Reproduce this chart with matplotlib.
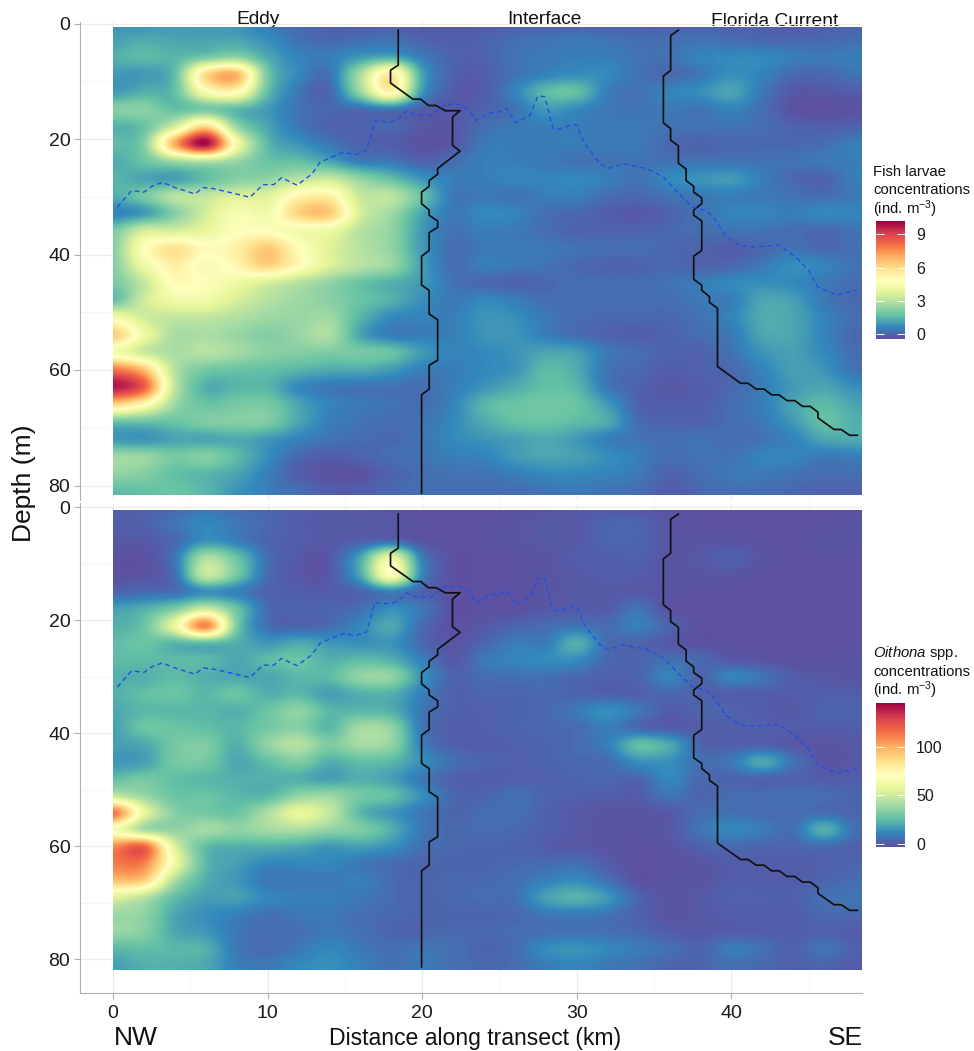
import numpy as np
import matplotlib
matplotlib.use("Agg")
import matplotlib.pyplot as plt
from matplotlib.patches import Rectangle

plt.rcParams['font.family'] = ['Liberation Sans', 'DejaVu Sans']
plt.rcParams['mathtext.fontset'] = 'custom'
plt.rcParams['mathtext.rm'] = 'Liberation Sans'
plt.rcParams['mathtext.it'] = 'Liberation Sans:italic'
plt.rcParams['mathtext.default'] = 'regular'

distance_km = list(range(0, 49, 2))
depth_m = list(range(0, 82, 3))

fish_larvae = [
 [0.8,0.8,0.9,1.0,0.9,0.4,0.1,-0.1,-0.1,-0.1,-0.2,-0.2,-0.2,-0.1,-0.1,-0.1,-0.1,-0.1,-0.1,-0.1,-0.1,-0.1,-0.2,-0.1,0.0],
 [1.1,1.3,1.2,1.2,1.2,0.8,0.3,0.1,0.2,0.3,0.0,-0.1,0.0,0.2,0.3,0.4,0.3,0.2,0.2,0.3,0.2,0.1,0.1,0.1,0.2],
 [1.4,1.6,1.5,2.0,2.4,1.3,0.6,0.5,1.0,1.3,0.5,0.0,0.0,0.3,0.4,0.5,0.5,0.3,0.3,0.6,0.7,0.7,0.5,0.4,0.5],
 [1.0,1.0,1.7,6.0,6.8,2.0,0.7,0.3,2.8,5.6,1.2,0.0,-0.1,0.3,0.6,0.8,0.7,0.3,0.1,0.4,0.8,0.6,0.1,0.1,0.3],
 [1.0,1.4,1.7,4.6,5.0,1.7,0.4,0.1,2.5,5.2,1.0,-0.1,-0.1,0.6,1.6,1.7,0.5,0.3,0.6,0.8,1.2,0.4,-0.2,-0.2,-0.1],
 [2.2,2.3,1.7,2.0,1.6,1.0,0.3,0.1,0.2,0.4,-0.1,-0.2,0.0,0.3,1.0,0.7,0.4,0.3,0.4,0.3,0.6,0.2,-0.3,-0.35,-0.3],
 [1.4,1.8,3.6,6.2,2.5,1.2,0.4,0.0,0.0,0.1,-0.2,-0.2,0.2,0.4,0.5,0.5,0.4,0.4,0.3,0.3,0.3,0.2,0.0,-0.1,0.0],
 [1.6,2.2,7.0,10.0,4.5,1.6,0.9,0.4,0.0,-0.1,-0.3,-0.2,0.4,0.5,0.5,0.5,0.4,0.4,0.1,0.0,0.1,0.1,0.1,0.2,0.5],
 [1.3,1.8,2.6,3.0,2.5,1.8,1.7,1.2,0.5,0.4,0.0,0.2,0.5,0.5,0.4,0.3,0.3,0.3,0.3,0.3,0.3,0.3,0.3,0.4,0.5],
 [1.5,1.2,1.1,1.7,2.2,2.4,3.0,3.3,2.4,1.7,0.9,0.5,0.5,0.6,0.6,0.7,0.5,0.3,0.7,0.9,1.0,0.5,0.1,0.0,0.5],
 [1.3,2.0,3.0,3.2,3.7,3.8,5.2,5.4,3.3,3.1,1.8,0.4,0.4,0.3,0.5,0.5,0.2,0.1,0.3,0.4,0.5,0.4,0.3,0.2,0.4],
 [0.6,1.0,2.2,3.5,4.6,4.4,6.2,6.4,3.6,2.6,1.2,0.4,0.7,0.6,0.2,0.1,-0.1,-0.2,0.0,0.3,0.6,0.6,0.5,0.7,0.6],
 [2.0,3.5,3.6,4.0,4.8,4.8,4.4,4.2,3.0,2.4,1.0,0.3,0.5,0.4,0.2,0.0,0.0,0.0,0.1,0.2,0.3,0.3,0.2,0.1,0.3],
 [2.2,4.8,5.8,5.0,5.4,6.4,5.0,3.8,3.0,2.4,1.0,0.2,0.4,0.4,0.4,0.3,0.2,0.2,0.1,0.0,-0.1,0.1,0.3,0.1,0.2],
 [2.2,4.2,5.4,4.6,5.2,6.2,5.0,3.7,3.0,2.5,1.1,0.2,0.5,0.4,0.3,0.1,0.0,0.0,0.1,0.0,0.1,0.4,0.8,0.6,0.3],
 [2.0,3.2,5.0,4.8,4.2,3.6,3.0,2.4,1.8,1.4,1.0,0.3,0.1,0.0,0.1,0.2,0.2,0.2,0.3,0.5,0.7,0.8,0.7,0.4,0.2],
 [1.7,3.4,4.3,4.3,3.6,3.0,2.6,2.3,1.8,1.4,0.8,0.4,0.7,0.5,0.2,0.2,0.2,0.2,0.2,0.4,0.5,1.2,1.1,0.4,0.1],
 [4.5,3.5,3.2,3.2,2.9,2.6,2.5,2.6,1.5,0.7,0.6,0.5,0.9,0.8,0.4,0.2,0.1,0.1,0.1,0.3,0.6,1.3,1.2,0.6,0.2],
 [6.4,4.3,2.8,2.8,2.5,2.2,2.5,2.8,1.2,0.5,0.5,0.5,0.9,0.9,0.5,0.2,0.0,-0.1,0.0,0.2,0.4,1.2,1.2,0.6,0.1],
 [4.5,3.4,2.8,3.0,2.7,2.3,2.2,2.1,2.0,1.8,1.0,0.6,0.7,0.9,1.2,1.1,0.4,0.2,0.0,0.0,0.3,0.9,1.1,0.7,0.2],
 [8.0,6.6,3.0,2.0,1.8,1.7,1.5,1.3,1.3,1.0,0.5,0.5,0.7,0.9,1.6,1.3,0.3,0.1,-0.1,0.0,0.1,0.6,1.1,0.9,0.3],
 [9.8,8.4,3.2,1.4,1.5,1.5,0.7,0.4,0.3,0.3,0.2,0.5,0.9,1.3,1.7,1.5,0.4,0.0,-0.2,-0.1,0.1,0.5,1.0,1.2,0.8],
 [6.2,5.0,2.6,1.8,2.0,2.0,1.2,0.6,0.4,0.3,0.2,0.6,1.5,1.8,1.9,1.8,1.0,0.0,-0.1,-0.1,0.2,0.5,1.2,1.6,1.2],
 [1.8,1.8,1.8,2.1,2.2,2.1,1.2,0.5,0.3,0.2,0.3,0.7,1.3,1.7,1.8,1.6,1.3,0.2,0.0,0.0,0.2,0.4,1.0,1.7,1.4],
 [1.0,0.9,1.2,1.2,1.3,1.0,0.6,0.3,0.2,0.1,0.3,0.7,0.9,1.1,1.3,1.0,0.5,0.3,0.2,0.3,0.2,0.3,0.6,1.2,1.3],
 [2.6,2.5,2.0,2.2,1.6,0.8,0.1,-0.1,0.0,0.2,0.3,0.5,0.6,1.0,1.2,1.1,0.8,0.5,0.2,0.3,0.3,0.6,0.6,0.4,0.5],
 [2.4,2.2,1.7,1.5,1.2,0.5,-0.1,-0.3,-0.3,0.0,0.2,0.3,0.3,0.5,0.7,0.7,0.6,0.4,0.0,0.2,0.4,0.4,0.3,0.2,0.2],
 [1.6,1.7,1.8,1.5,0.9,0.5,0.2,-0.1,-0.1,0.1,0.2,0.2,0.2,0.2,0.3,0.4,0.3,0.2,-0.1,0.1,0.2,0.2,0.1,0.0,0.0],
]

oithona = [
 [2,2,4,8,5,3,1,0,0,-1,-2,-2,-2,-2,-1,0,0,-1,-1,-2,-2,-2,-2,-2,-2],
 [1,2,7,12,8,4,1,0,0,0,-2,-2,-2,-1,0,0,3,3,-1,-2,-2,-2,-2,-2,-1],
 [0,0,4,15,10,3,1,0,2,5,-1,-2,-2,-1,0,0,3,3,-1,-1,-1,-2,-2,-1,-1],
 [-2,-2,8,42,28,6,0,0,20,60,10,-2,-2,-2,-1,1,1,2,-1,0,2,-1,-2,-2,-2],
 [-2,-1,6,48,30,5,0,0,20,68,12,-2,-2,-2,-1,0,1,1,-1,-1,-1,-2,-2,-2,-2],
 [3,5,6,14,10,3,1,1,3,10,2,-2,-2,-2,-1,0,0,0,-1,-2,-2,-2,-2,-2,-2],
 [18,22,32,50,28,5,3,3,6,14,8,-2,-2,-2,0,1,1,7,-2,-2,-2,-2,-2,-2,-2],
 [22,28,60,110,32,6,3,5,12,20,5,-2,0,3,5,7,5,10,3,-2,-2,-2,-2,-2,-2],
 [25,28,24,26,22,16,20,16,14,15,4,-1,3,9,9,22,5,3,0,-2,-2,-2,-2,-2,-2],
 [25,25,25,25,20,25,28,22,25,22,10,0,8,11,13,13,4,3,6,4,0,-1,-2,-2,-1],
 [22,22,25,22,20,20,24,25,36,36,15,3,5,6,6,4,2,3,11,3,11,7,1,0,-1],
 [22,26,28,24,28,22,24,18,22,22,10,2,3,3,4,3,2,2,4,2,1,1,1,1,1],
 [20,24,24,24,22,28,36,24,24,22,8,2,2,3,4,8,14,8,1,3,3,1,0,3,3],
 [18,28,28,26,24,30,34,24,40,36,8,1,2,3,4,5,9,4,1,1,1,2,1,1,1],
 [18,20,30,32,22,36,44,32,40,36,10,2,1,2,3,5,10,26,20,3,2,2,0,-1,0],
 [16,18,30,30,20,26,32,22,26,24,14,6,3,2,3,4,5,14,14,6,8,20,7,-1,0],
 [26,30,26,24,22,22,22,18,22,18,8,2,1,2,2,3,4,3,12,4,3,3,2,1,1],
 [48,38,28,28,24,24,36,38,30,26,14,4,3,6,3,2,1,1,7,3,5,5,6,5,3],
 [115,60,34,30,28,42,58,48,24,16,8,3,5,6,2,0,-1,-1,0,5,6,5,5,5,3],
 [68,42,36,40,36,40,42,36,32,22,8,4,5,4,2,0,-1,-1,0,7,12,9,6,22,6],
 [108,118,55,26,22,22,20,16,18,14,6,4,3,3,1,0,-1,-2,-1,2,4,3,3,5,2],
 [112,110,62,25,18,12,12,12,8,5,3,3,3,4,5,6,1,-2,-2,-1,1,1,1,2,3],
 [95,90,42,22,16,8,8,8,10,5,3,4,4,6,10,13,6,-2,-1,-1,1,1,1,3,5],
 [55,45,26,18,18,12,10,10,8,5,3,4,5,6,18,23,16,3,-1,0,2,2,2,6,7],
 [38,36,20,14,10,6,8,8,6,4,3,3,3,4,8,9,7,2,-1,0,1,1,1,4,4],
 [38,34,20,16,8,5,6,8,6,3,3,4,4,5,6,6,6,4,1,0,1,1,1,2,1],
 [24,26,24,22,8,5,8,12,8,6,7,6,3,5,13,15,12,9,6,3,9,6,2,7,2],
 [18,22,22,20,10,8,12,14,10,6,8,6,4,5,9,11,8,6,3,3,6,4,2,3,1],
]

front1_x = [18.45,18.45,17.95,17.95,19.4,19.9,20.4,20.9,21.5,22.45,21.96,21.96,22.45,21,21,20.45,20.45,19.96,19.96,20.45,20.45,21,21,20.45,20.45,19.96,19.96,20.45,20.45,21,21,20.45,20.45,19.96,19.96]
front1_d = [1.15,7.2,8.1,10.3,13.1,13.1,14.2,14.2,15.1,15.1,16.2,21.1,22.1,25.1,26.1,27.2,28.2,29.2,31.2,32.3,33.2,34.2,35.3,36.2,39.3,40.3,45.3,46.2,50.3,51.3,58.3,59.2,63.3,64.3,81.3]
front2_x = [36.57,36.07,36.07,35.6,35.6,36.07,36.07,36.57,36.57,37.07,37.07,37.56,37.56,38.08,38.08,37.56,37.56,38.08,38.08,37.56,37.56,38.08,38.08,38.58,38.58,39.1,39.1,40.6,41.08,41.6,42.1,42.6,43.08,43.6,44.1,44.6,45.1,45.6,45.6,46.64,47.1,47.65,48.15]
front2_d = [1.15,2.1,8.1,9.1,17.2,18.2,20.2,21.2,24.2,25.2,27.2,28.2,29.2,30.2,31.2,32.3,33.2,34.2,39.3,40.3,44.3,45.3,46.2,47.3,48.3,49.3,59.4,62.3,62.3,63.3,63.3,64.3,64.3,65.3,65.3,66.3,66.3,67.3,68.3,70.3,70.3,71.3,71.3]
mld_x = [0.28,1.2,2.0,2.5,3.2,4.0,5.3,5.84,6.5,7.8,8.86,9.7,10.4,10.9,11.9,12.85,13.4,14.9,15.65,16.4,16.94,18.0,18.45,19.0,19.6,20.6,21.47,22.5,23.0,23.5,24.37,25.0,25.5,26.05,26.96,27.5,27.93,28.47,28.9,29.65,30.0,30.5,31.5,32.0,33.0,34.5,35.6,36.9,37.5,38.4,39.0,39.6,40.5,41.4,43.1,44.2,45.0,45.6,46.8,48.1]
mld_d = [31.8,28.9,29.2,28.2,27.5,28.4,29.5,28.4,28.6,29.4,30.1,27.9,27.9,26.7,28.0,26.1,24.0,22.3,22.7,22.0,16.9,17.05,16.5,15.1,15.9,15.9,14.0,14.0,15.0,16.8,15.5,15.3,14.75,17.2,15.9,12.5,12.7,18.2,18.3,17.5,17.6,20.8,24.3,25.1,24.3,25.1,26.6,30.3,31.8,32.4,34.1,36.7,38.4,38.7,38.4,40.5,42.8,45.7,47.0,46.2]

depth_ticks = [0, 20, 40, 60, 80]
distance_ticks = [0, 10, 20, 30, 40]
water_masses = ['Eddy', 'Interface', 'Florida Current']
fish_ticks = [0, 3, 6, 9]
oithona_ticks = [0, 50, 100]
fish_range = (-0.4, 10.2)
oithona_range = (-3, 145)

W, H = 974, 1051
fig = plt.figure(figsize=(W / 100, H / 100), dpi=100, facecolor='white')

def box(x0, y0, x1, y1):
    return [x0 / W, 1 - y1 / H, (x1 - x0) / W, (y1 - y0) / H]

def panel(y0, y1, depth_zero_px, px_per_m, tile_top, tile_bottom, values, vrange, show_x):
    ax = fig.add_axes(box(80, y0, 862, y1))
    ax.patch.set_visible(False)
    xlim = ((80 - 113) / 15.46, (862 - 113) / 15.46)
    ylim = ((y1 - depth_zero_px) / px_per_m, (y0 - depth_zero_px) / px_per_m)
    dx = (distance_km[1] - distance_km[0]) / 2
    dy = (depth_m[1] - depth_m[0]) / 2
    im = ax.imshow(np.array(values, float), cmap='Spectral_r', vmin=vrange[0], vmax=vrange[1],
                   interpolation='catrom', aspect='auto', origin='upper', zorder=2,
                   extent=(distance_km[0] - dx, distance_km[-1] + dx, depth_m[-1] + dy, depth_m[0] - dy))
    ax.set_xlim(*xlim)
    ax.set_ylim(*ylim)
    im.set_clip_path(Rectangle((0, tile_top), xlim[1], tile_bottom - tile_top, transform=ax.transData))
    ax.plot(front1_x, front1_d, color='#111111', lw=1.25, zorder=3)
    ax.plot(front2_x, front2_d, color='#111111', lw=1.25, zorder=3)
    ax.plot(mld_x, mld_d, color='#2150e0', lw=1.0, ls=(0, (3.5, 2.5)), zorder=4)
    for s in ['top', 'right']:
        ax.spines[s].set_visible(False)
    ax.spines['left'].set_color('#b0b0b0')
    ax.spines['bottom'].set_color('#b0b0b0')
    ax.spines['bottom'].set_visible(show_x)
    ax.set_yticks(depth_ticks)
    ax.set_yticks([10, 30, 50, 70], minor=True)
    ax.set_xticks(distance_ticks)
    ax.set_xticks([5, 15, 25, 35, 45], minor=True)
    ax.grid(True, which='major', color='#ebebeb', lw=0.8, zorder=0)
    ax.grid(True, which='minor', color='#f3f3f3', lw=0.5, zorder=0)
    ax.tick_params(axis='y', which='major', labelsize=14, length=4, color='#b0b0b0', labelcolor='#1a1a1a', pad=3)
    ax.tick_params(axis='x', which='major', labelsize=14, length=4 if show_x else 0,
                   color='#b0b0b0', labelcolor='#1a1a1a', labelbottom=show_x, pad=5)
    ax.tick_params(which='minor', length=0)
    return im

im1 = panel(22, 500, 23.5, 5.775, 0.6, 81.64, fish_larvae, fish_range, False)
im2 = panel(503, 993, 507.5, 5.65, 0.5, 81.8, oithona, oithona_range, True)

def colorbar(im, y0, y1, ticks):
    cax = fig.add_axes(box(876, y0, 905, y1))
    cb = fig.colorbar(im, cax=cax)
    cb.outline.set_visible(False)
    cb.set_ticks(ticks)
    cax.tick_params(which='both', left=True, right=True, direction='in', length=6, width=0.7,
                    color='white', labelsize=11.5, labelcolor='#1a1a1a', pad=8)
    cax.minorticks_off()

colorbar(im1, 221, 338.7, fish_ticks)
colorbar(im2, 703, 847, oithona_ticks)

def label(x, y, s, **kw):
    kw.setdefault('color', '#111111')
    return fig.text(x / W, 1 - y / H, s, **kw)

# Water-mass names sit behind the heat map, which trims their lower edge.
for name, cx in zip(water_masses, [258, 544, 775]):
    label(cx, 19 if name != 'Florida Current' else 21, name, fontsize=13.8, ha='center', va='center', zorder=-1)

label(24, 483, 'Depth (m)', fontsize=19, rotation=90, ha='center', va='center')
label(475, 1038, 'Distance along transect (km)', fontsize=16.6, ha='center', va='center')
label(114, 1038, 'NW', fontsize=19, ha='left', va='center')
label(863, 1038, 'SE', fontsize=19, ha='right', va='center')

for y, s in zip([172, 190, 209], ['Fish larvae', 'concentrations', r'(ind. m$^{-3}$)']):
    label(873, y, s, fontsize=10.7, ha='left', va='center')
for y, s in zip([653, 672, 690], [r'$\mathit{Oithona}$ spp.', 'concentrations', r'(ind. m$^{-3}$)']):
    label(873, y, s, fontsize=10.7, ha='left', va='center')

fig.savefig('out.png', dpi=100, facecolor='white')
